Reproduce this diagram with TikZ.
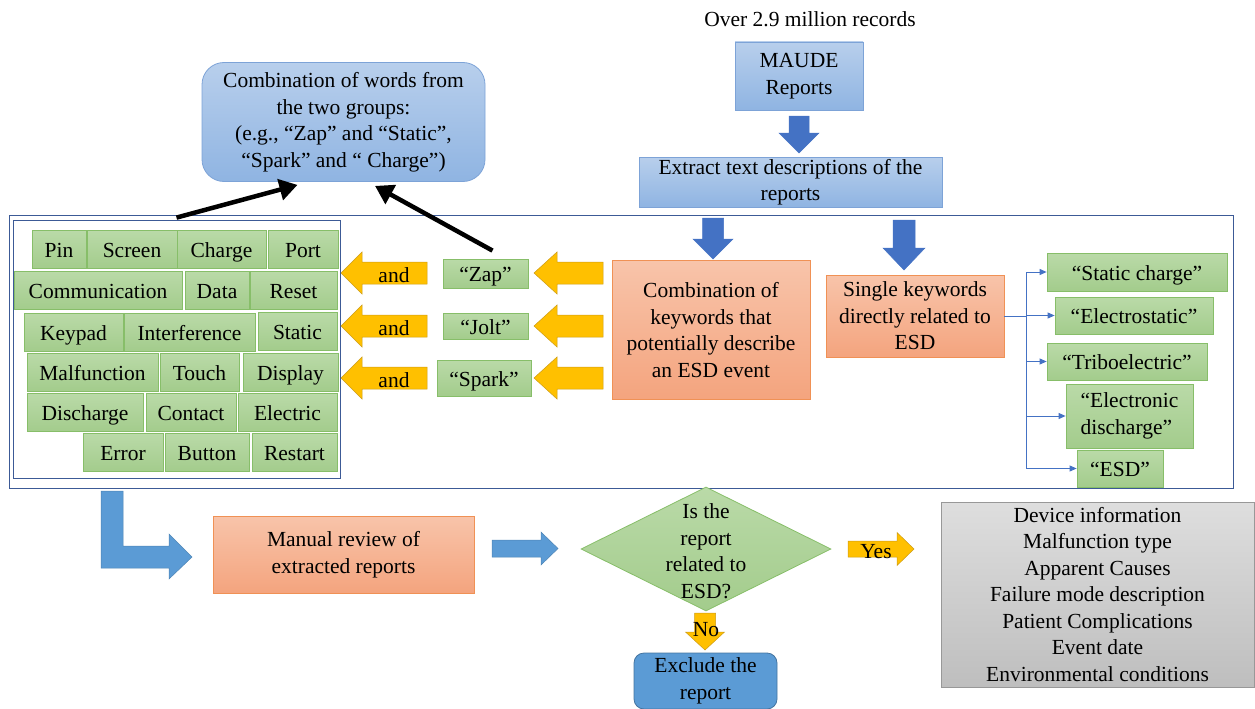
\documentclass[tikz,border=0pt]{standalone}
\usepackage{fontspec}
\setmainfont{Liberation Serif}
\usetikzlibrary{shapes.geometric,arrows.meta,calc}

\definecolor{boxblueT}{RGB}{184,207,236}
\definecolor{boxblueB}{RGB}{143,180,226}
\definecolor{boxblueD}{RGB}{125,163,215}
\definecolor{orgT}{RGB}{248,196,170}
\definecolor{orgB}{RGB}{244,164,126}
\definecolor{orgD}{RGB}{240,145,85}
\definecolor{grnT}{RGB}{186,218,168}
\definecolor{grnB}{RGB}{163,204,140}
\definecolor{grnD}{RGB}{135,190,105}
\definecolor{darkblue}{RGB}{68,114,196}
\definecolor{midblue}{RGB}{91,155,213}
\definecolor{amber}{RGB}{255,192,0}
\definecolor{amberD}{RGB}{205,155,20}
\definecolor{frameblue}{RGB}{60,90,150}
\definecolor{greyT}{RGB}{222,222,222}
\definecolor{greyB}{RGB}{190,190,190}

% block arrow: style, tail point, angle, length, head length, shaft half width, head half width
\newcommand{\blockarrow}[7]{\path[#1,shift={#2},rotate=#3] (0,-#6) -- ({#4-#5},-#6) -- ({#4-#5},-#7) -- (#4,0) -- ({#4-#5},#7) -- ({#4-#5},#6) -- (0,#6) -- cycle;}

\begin{document}
\begin{tikzpicture}[
    x=1pt, y=-1pt,
    txt/.style={font=\fontsize{21.5}{26.5}\selectfont, align=center, inner sep=0pt},
    oneline/.style={text height=20pt, text depth=4pt},
    bluebox/.style={txt, rectangle, draw=boxblueD, top color=boxblueT, bottom color=boxblueB, line width=0.8pt},
    orangebox/.style={txt, rectangle, draw=orgD, top color=orgT, bottom color=orgB, line width=0.8pt},
    greenbox/.style={txt, rectangle, draw=grnD, top color=grnT, bottom color=grnB, line width=0.8pt},
    kw/.style={greenbox, oneline, minimum height=38},
    greybox/.style={txt, rectangle, draw=greyB!80!black, top color=greyT, bottom color=greyB, line width=0.6pt},
    frame/.style={rectangle, draw=frameblue, line width=0.8pt, inner sep=0pt},
    yarrow/.style={fill=amber, draw=amberD, line width=0.5pt},
    darrow/.style={fill=darkblue, draw=darkblue, line width=0.5pt},
    marrow/.style={fill=midblue, draw=midblue!85!black, line width=0.5pt},
    conn/.style={draw=darkblue, line width=0.9pt, -{Triangle[length=7pt,width=6pt]}},
    pointer/.style={line width=4.5pt, -{Triangle[length=18pt,width=21pt]}}
]
\useasboundingbox (0,0) rectangle (1255,709);

% Source
\node[txt, oneline] (count) at (810,19) {Over 2.9 million records};
\node[bluebox, minimum width=128, minimum height=68] (maude) at (799,76) {MAUDE\\Reports};
\node[bluebox, minimum width=303, minimum height=50] (extract) at (790.5,182) {Extract text descriptions of the\\reports};
\blockarrow{darrow}{(799,116)}{-90}{37}{20}{10}{20}

% Keyword frame
\node[frame, minimum width=1224, minimum height=273] (outer) at (621,351.5) {};
\node[frame, minimum width=327, minimum height=258] (keys) at (176.5,349) {};

\blockarrow{darrow}{(713,218)}{-90}{41}{20}{10.5}{20}
\blockarrow{darrow}{(904,220)}{-90}{50}{22}{11}{21}

\node[orangebox, minimum width=198, minimum height=139] (combo) at (711,330) {Combination of\\keywords that\\potentially describe\\an ESD event};
\node[orangebox, minimum width=178, minimum height=82] (single) at (915,316) {Single keywords\\directly related to\\ESD};

% Single keywords
\node[kw, minimum width=180] (kwstatic) at (1137,272) {“Static charge”};
\node[kw, minimum width=158, minimum height=37] (kwelectro) at (1134,315.5) {“Electrostatic”};
\node[kw, minimum width=160, minimum height=37] (kwtribo) at (1127,361.5) {“Triboelectric”};
\node[greenbox, minimum width=127, minimum height=64, align=left] (kwdisch) at (1129.5,416) {“Electronic\\discharge”};
\node[kw, minimum width=86, minimum height=37] (kwesd) at (1120,468.5) {“ESD”};

\foreach \t in {kwstatic,kwelectro,kwtribo,kwdisch,kwesd}
  \draw[conn] (single.east) -- ++(22,0) |- (\t.west);

% Word pairs
\node[kw, minimum width=85, minimum height=29] (zap) at (485.5,273.5) {“Zap”};
\node[kw, minimum width=85, minimum height=26] (jolt) at (485.5,326) {“Jolt”};
\node[kw, minimum width=94, minimum height=36] (spark) at (484,378) {“Spark”};

\foreach \yc in {273,326,378} {
  \blockarrow{yarrow}{(603,\yc)}{180}{69}{23}{11}{21}
  \blockarrow{yarrow}{(427,\yc)}{180}{86}{21}{11}{21}
}
\node[txt, oneline] (and1) at (394,274) {and};
\node[txt, oneline] (and2) at (394,327) {and};
\node[txt, oneline] (and3) at (394,379) {and};

% Second group of words
\foreach \w/\xa/\xb/\yc in {Pin/32/86/249.5, Screen/87/177/249.5, Charge/177/266/249.5, Port/268/338/249.5,
    Communication/14/182/290.5, Data/185/249/290.5, Reset/250/337/290.5,
    Keypad/24/123/332, Interference/124/255/332, Static/258/337/331,
    Malfunction/27/158/372, Touch/160/239/372, Display/243/338/372,
    Discharge/27/143/412.5, Contact/146/236/412.5, Electric/238/337/412.5,
    Error/83/163/452.5, Button/165/249/452.5, Restart/252/337/452.5}
  \node[kw, minimum width={\xb-\xa}] (kw\w) at ({(\xa+\xb)/2},\yc) {\w};

% Combination bubble
\node[bluebox, rounded corners=22pt, minimum width=283, minimum height=119] (bubble) at (343.5,122)
  {Combination of words from\\the two groups:\\(e.g., “Zap” and “Static”,\\“Spark” and “ Charge”)};
\draw[pointer] ([yshift=2pt]keys.north) -- ([xshift=-46pt,yshift=-3pt]bubble.south);
\draw[pointer] ([xshift=7pt,yshift=8pt]zap.north) -- ([xshift=31.5pt,yshift=-4pt]bubble.south);

% Review
\path[marrow] (101,491) -- (123,491) -- (123,546) -- (169,546) -- (169,534) -- (192,557) -- (169,579) -- (169,568) -- (101,568) -- cycle;
\node[orangebox, minimum width=261, minimum height=77] (manual) at (343.5,554.5) {Manual review of\\extracted reports};
\blockarrow{marrow}{(492,548.5)}{0}{66}{17}{8.5}{16.5}

\node[diamond, draw=grnD, top color=grnT, bottom color=grnB, line width=0.8pt, minimum width=250, minimum height=124, inner sep=0pt] (esdq) at (706,549) {};
\node[txt] (esdqtxt) at (706,551) {Is the\\report\\related to\\ESD?};

\blockarrow{yarrow}{(848,549)}{0}{66}{17}{8}{16.5}
\node[txt, oneline] (yes) at (876,550) {Yes};
\blockarrow{yarrow}{(705,613)}{-90}{37}{18}{10.5}{19.5}
\node[txt, oneline] (no) at (706,628) {No};

\node[txt, rectangle, rounded corners=10pt, draw=midblue!75!black, fill=midblue, line width=0.8pt, minimum width=143, minimum height=56] (exclude) at (705.5,681) {Exclude the\\report};

\node[greybox, minimum width=313, minimum height=185] (fields) at (1097.5,594.5)
  {Device information\\Malfunction type\\Apparent Causes\\Failure mode description\\Patient Complications\\Event date\\Environmental conditions};

\end{tikzpicture}
\end{document}
